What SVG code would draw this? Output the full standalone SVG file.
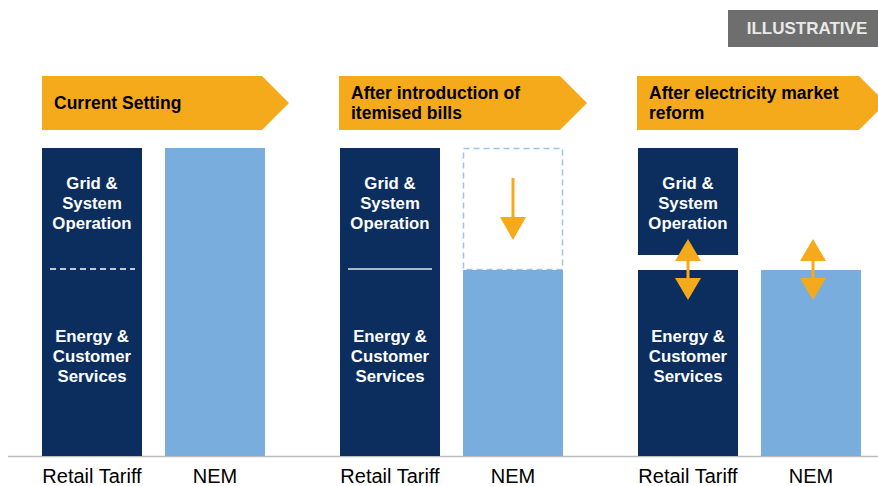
<svg xmlns="http://www.w3.org/2000/svg" width="878" height="486" viewBox="0 0 878 486">
<style>
.chev{fill:#f5aa1c}
.ct{font-family:"Liberation Sans",Arial,sans-serif;font-weight:bold;font-size:17.5px;fill:#000}
.dark{fill:#0b2e5e}
.light{fill:#78addd}
.bt{font-family:"Liberation Sans",Arial,sans-serif;font-weight:bold;font-size:16.8px;fill:#fff;text-anchor:middle}
.lab{font-family:"Liberation Sans",Arial,sans-serif;font-size:20px;fill:#000;text-anchor:middle}
.arr{stroke:#f5aa1c;stroke-width:3;fill:none}
.head{fill:#f5aa1c}
</style>
<rect width="878" height="486" fill="#fff"/>
<g id="illustrative">
<rect x="728" y="10" width="150" height="37" fill="#6e6e6e"/>
<text x="807" y="34" font-family="Liberation Sans,Arial,sans-serif" font-weight="bold" font-size="17px" fill="#e8e8e8" text-anchor="middle">ILLUSTRATIVE</text>
</g>
<g id="chevron1">
<polygon class="chev" points="42,76 262,76 289,103 262,130 42,130"/>
<text class="ct" x="54" y="109">Current Setting</text>
</g>
<g id="chevron2">
<polygon class="chev" points="339,76 560,76 587,103 560,130 339,130"/>
<text class="ct" x="351" y="99">After introduction of</text>
<text class="ct" x="351" y="119">itemised bills</text>
</g>
<g id="chevron3">
<polygon class="chev" points="637,76 859,76 886,103 859,130 637,130"/>
<text class="ct" x="649" y="99">After electricity market</text>
<text class="ct" x="649" y="119">reform</text>
</g>
<line x1="8" y1="456.5" x2="878" y2="456.5" stroke="#bdbdbd" stroke-width="1.5"/>
<g id="rt1">
<rect class="dark" x="42" y="148" width="100" height="308"/>
<text class="bt" x="92" y="189">Grid &amp;</text>
<text class="bt" x="92" y="209">System</text>
<text class="bt" x="92" y="229">Operation</text>
<line x1="50" y1="269" x2="135" y2="269" stroke="#fff" stroke-width="1.5" stroke-dasharray="6,4"/>
<text class="bt" x="92" y="342">Energy &amp;</text>
<text class="bt" x="92" y="362">Customer</text>
<text class="bt" x="92" y="382">Services</text>
<text class="lab" x="92" y="483">Retail Tariff</text>
</g>
<g id="nem1">
<rect class="light" x="165" y="148" width="100" height="308"/>
<text class="lab" x="215" y="483">NEM</text>
</g>
<g id="rt2">
<rect class="dark" x="340" y="148" width="100" height="308"/>
<text class="bt" x="390" y="189">Grid &amp;</text>
<text class="bt" x="390" y="209">System</text>
<text class="bt" x="390" y="229">Operation</text>
<line x1="348" y1="269" x2="432" y2="269" stroke="#dfe6ef" stroke-width="1.5"/>
<text class="bt" x="390" y="342">Energy &amp;</text>
<text class="bt" x="390" y="362">Customer</text>
<text class="bt" x="390" y="382">Services</text>
<text class="lab" x="390" y="483">Retail Tariff</text>
</g>
<g id="nem2">
<rect x="463.5" y="148.5" width="99" height="121" fill="none" stroke="#9cc4e8" stroke-width="1.5" stroke-dasharray="6,4"/>
<rect class="light" x="463" y="270" width="100" height="186"/>
<text class="lab" x="513" y="483">NEM</text>
</g>
<g id="rt3">
<rect class="dark" x="638" y="148" width="100" height="107"/>
<rect class="dark" x="638" y="270" width="100" height="186"/>
<text class="bt" x="688" y="189">Grid &amp;</text>
<text class="bt" x="688" y="209">System</text>
<text class="bt" x="688" y="229">Operation</text>
<text class="bt" x="688" y="342">Energy &amp;</text>
<text class="bt" x="688" y="362">Customer</text>
<text class="bt" x="688" y="382">Services</text>
<text class="lab" x="688" y="483">Retail Tariff</text>
</g>
<g id="nem3">
<rect class="light" x="761" y="270" width="100" height="186"/>
<text class="lab" x="811" y="483">NEM</text>
</g>
<g id="connectors">
<line class="arr" x1="513" y1="178" x2="513" y2="220"/>
<polygon class="head" points="500,217 526,217 513,240"/>
<line class="arr" x1="688" y1="258" x2="688" y2="281"/>
<polygon class="head" points="675,261 701,261 688,239"/>
<polygon class="head" points="675,278 701,278 688,300"/>
<line class="arr" x1="813" y1="258" x2="813" y2="281"/>
<polygon class="head" points="800,261 826,261 813,239"/>
<polygon class="head" points="800,278 826,278 813,300"/>
</g>
</svg>
